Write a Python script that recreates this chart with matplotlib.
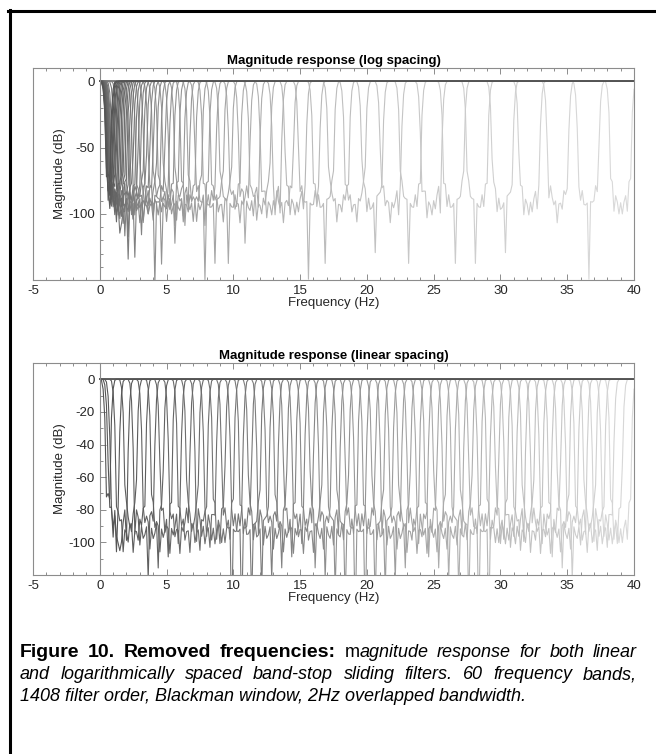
import numpy as np
import matplotlib
matplotlib.use("Agg")
import matplotlib.pyplot as plt
from matplotlib.lines import Line2D
from matplotlib.ticker import MultipleLocator

# filter settings (from the caption)
fs = 128.0
filter_order = 1408
bandwidth = 2.0
lower_floor = 0.25

# upper band edges of the 60 band-stop filters
log_centres = [1.00, 1.06, 1.13, 1.21, 1.28, 1.37, 1.46, 1.55, 1.65, 1.76,
               1.87, 1.99, 2.12, 2.25, 2.40, 2.55, 2.72, 2.89, 3.08, 3.28,
               3.49, 3.72, 3.96, 4.21, 4.48, 4.77, 5.08, 5.41, 5.76, 6.13,
               6.52, 6.94, 7.39, 7.87, 8.38, 8.92, 9.49, 10.11, 10.76, 11.45,
               12.19, 12.98, 13.82, 14.71, 15.66, 16.67, 17.74, 18.89, 20.11, 21.40,
               22.79, 24.26, 25.82, 27.49, 29.26, 31.15, 33.16, 35.30, 37.58, 40.00]
lin_centres = [1.00, 1.66, 2.32, 2.98, 3.64, 4.31, 4.97, 5.63, 6.29, 6.95,
               7.61, 8.27, 8.93, 9.59, 10.25, 10.92, 11.58, 12.24, 12.90, 13.56,
               14.22, 14.88, 15.54, 16.20, 16.86, 17.53, 18.19, 18.85, 19.51, 20.17,
               20.83, 21.49, 22.15, 22.81, 23.47, 24.14, 24.80, 25.46, 26.12, 26.78,
               27.44, 28.10, 28.76, 29.42, 30.08, 30.75, 31.41, 32.07, 32.73, 33.39,
               34.05, 34.71, 35.37, 36.03, 36.69, 37.36, 38.02, 38.68, 39.34, 40.00]

titles = ["Magnitude response (log spacing)", "Magnitude response (linear spacing)"]
x_ticks = [-5, 0, 5, 10, 15, 20, 25, 30, 35, 40]
y_ticks_top = [-100, -50, 0]
y_ticks_bottom = [-100, -80, -60, -40, -20, 0]

caption_bold = "Figure 10. Removed frequencies:"
caption_line1 = "magnitude response for both linear"
caption_line2 = "and logarithmically spaced band-stop sliding filters. 60 frequency bands,"
caption_line3 = "1408 filter order, Blackman window, 2Hz overlapped bandwidth."

W, H = 656, 754
frame_col = "#8c8c8c"
text_col = "#262626"
plt.rcParams["font.family"] = ["Liberation Sans", "DejaVu Sans"]
plt.rcParams["axes.unicode_minus"] = False


def bandstop_db(centres):
    n = np.arange(filter_order + 1) - filter_order / 2
    win = np.blackman(filter_order + 1)
    freqs = np.arange(512) * (fs / 2) / 512
    freqs = freqs[freqs <= 40.0]
    E = np.exp(-2j * np.pi * np.outer(freqs, n) / fs)
    out = []
    for fc in centres:
        f1 = max(fc - bandwidth, lower_floor * fc)
        f2 = fc
        lp2 = 2 * f2 / fs * np.sinc(2 * f2 / fs * n)
        lp1 = 2 * f1 / fs * np.sinc(2 * f1 / fs * n)
        h = (n == 0).astype(float) - (lp2 - lp1)
        h = h * win
        mag = np.abs(E @ h)
        out.append(20 * np.log10(np.maximum(mag, 1e-12)))
    return freqs, out


fig = plt.figure(figsize=(W / 100, H / 100), dpi=100)

boxes = [(33, 68, 634, 280), (33, 363, 634, 575)]
ylims = [(-150, 10), (-120, 10)]
yticks = [y_ticks_top, y_ticks_bottom]
yminor = [10, 10]

for i, centres in enumerate([log_centres, lin_centres]):
    x0, y0, x1, y1 = boxes[i]
    ax = fig.add_axes([x0 / W, 1 - y1 / H, (x1 - x0) / W, (y1 - y0) / H])
    freqs, curves = bandstop_db(centres)
    nb = len(curves)
    for k in range(nb - 1, -1, -1):
        g = 0.33 + 0.52 * k / (nb - 1)
        ax.plot(freqs, curves[k], color=(g, g, g), lw=0.8)

    ax.set_xlim(-5, 40)
    ax.set_ylim(*ylims[i])
    ax.set_xticks(x_ticks)
    ax.set_yticks(yticks[i])
    ax.xaxis.set_minor_locator(MultipleLocator(1))
    ax.yaxis.set_minor_locator(MultipleLocator(yminor[i]))
    ax.spines["left"].set_position(("data", 0))
    for s in ax.spines.values():
        s.set_color(frame_col)
        s.set_linewidth(0.8)
    ax.plot([-5, -5], ylims[i], color=frame_col, lw=0.8, clip_on=False)
    ax.tick_params(which="both", direction="in", top=True, right=False,
                   color=frame_col, labelcolor=text_col, labelsize=9.5, width=0.7)
    ax.tick_params(which="major", length=4)
    ax.tick_params(which="minor", length=2.5)
    ax.tick_params(axis="x", pad=3.5)
    ax.set_title(titles[i], fontsize=9.5, fontweight="bold", color="black", pad=3)
    ax.set_xlabel("Frequency (Hz)", fontsize=9.5, color=text_col, labelpad=0)
    ax.set_ylabel("Magnitude (dB)", fontsize=9.5, color=text_col)
    ax.yaxis.set_label_coords(33 / (x1 - x0), 0.5)

# page border (left and top)
fig.add_artist(Line2D([9.5 / W, 9.5 / W], [0, 1 - 10 / H], color="black", lw=2.2,
                      transform=fig.transFigure))
fig.add_artist(Line2D([8.4 / W, 1], [1 - 11 / H, 1 - 11 / H], color="black", lw=2.2,
                      transform=fig.transFigure))

# caption, first two lines justified
fig.canvas.draw()
renderer = fig.canvas.get_renderer()


def seg(x, y, s, **kw):
    t = fig.text(x / W, 1 - y / H, s, va="baseline", ha="left", color="black", **kw)
    return t, t.get_window_extent(renderer).width


def justify(words, y, left=20, right=637):
    # words: list of lists of (text, kwargs) pieces
    placed = []
    total = 0
    for w in words:
        x = left
        parts = []
        for s, kw in w:
            t, wd = seg(x, y, s, **kw)
            parts.append((t, x - left))
            x += wd
        placed.append((parts, x - left))
        total += x - left
    gap = (right - left - total) / (len(words) - 1)
    x = left
    for parts, wd in placed:
        for t, off in parts:
            t.set_x((x + off) / W)
        x += wd + gap


bold = {"fontweight": "bold", "fontsize": 14}
plain = {"fontsize": 13}
ital = {"style": "italic", "fontsize": 13}
line1 = [[(w, bold)] for w in caption_bold.split()]
words1 = caption_line1.split()
line1.append([(words1[0][0], plain), (words1[0][1:], ital)])
line1 += [[(w, ital)] for w in words1[1:]]
justify(line1, 657)
justify([[(w, ital)] for w in caption_line2.split()], 679)
seg(20, 701, caption_line3, **ital)

fig.savefig("out.png", dpi=100)
